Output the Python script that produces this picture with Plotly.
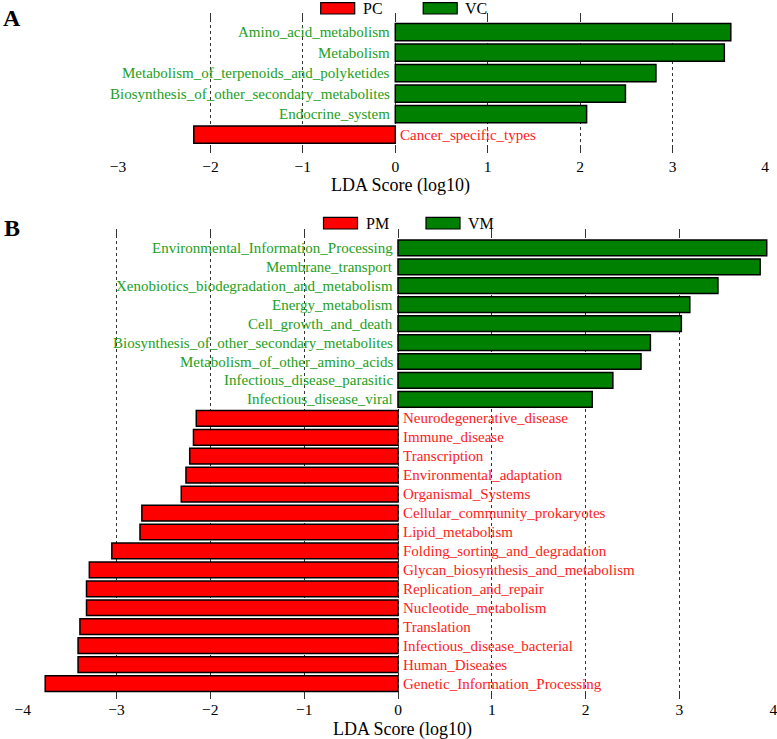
import plotly.graph_objects as go

W, H = 777, 739

# ---------------- data ----------------
a_features = ["Amino_acid_metabolism", "Metabolism",
              "Metabolism_of_terpenoids_and_polyketides",
              "Biosynthesis_of_other_secondary_metabolites",
              "Endocrine_system", "Cancer_specific_types"]
a_scores = [3.63, 3.56, 2.82, 2.49, 2.07, -2.18]
a_groups = ["PC", "VC"]

b_features = ["Environmental_Information_Processing", "Membrane_transport",
              "Xenobiotics_biodegradation_and_metabolism", "Energy_metabolism",
              "Cell_growth_and_death", "Biosynthesis_of_other_secondary_metabolites",
              "Metabolism_of_other_amino_acids", "Infectious_disease_parasitic",
              "Infectious_disease_viral", "Neurodegenerative_disease",
              "Immune_disease", "Transcription", "Environmental_adaptation",
              "Organismal_Systems", "Cellular_community_prokaryotes",
              "Lipid_metabolism", "Folding_sorting_and_degradation",
              "Glycan_biosynthesis_and_metabolism", "Replication_and_repair",
              "Nucleotide_metabolism", "Translation",
              "Infectious_disease_bacterial", "Human_Diseases",
              "Genetic_Information_Processing"]
b_scores = [3.93, 3.86, 3.41, 3.11, 3.02, 2.69, 2.59, 2.29, 2.07,
            -2.15, -2.18, -2.22, -2.26, -2.31, -2.73, -2.75, -3.05,
            -3.29, -3.32, -3.32, -3.39, -3.41, -3.41, -3.76]
b_groups = ["PM", "VM"]

x_ticks_a = [-3, -2, -1, 0, 1, 2, 3, 4]
x_ticks_b = [-4, -3, -2, -1, 0, 1, 2, 3, 4]
x_title = "LDA Score (log10)"

# ---------------- style ----------------
RED = "#FF0000"
GREEN = "#008000"
RED_TXT = "#FF1A1A"
GREEN_TXT = "#22A022"
FONT = "Liberation Serif"

fig = go.Figure()

def px_x(p):
    return p / W

def px_y(p):
    return 1 - p / H

def add_panel(features, scores, xa, ya, width):
    for flag, col in ((False, RED), (True, GREEN)):
        ys = [f for f, s in zip(features, scores) if (s >= 0) == flag]
        xs = [s for s in scores if (s >= 0) == flag]
        fig.add_trace(go.Bar(
            x=xs, y=ys, orientation="h", base=0, width=width,
            marker=dict(color=col, line=dict(color="black", width=1.5)),
            xaxis=xa, yaxis=ya, showlegend=False, hoverinfo="x+y"))
    for f, s in zip(features, scores):
        if s >= 0:
            fig.add_annotation(x=0, y=f, xref=xa, yref=ya, text=f,
                               showarrow=False, xanchor="right", yanchor="middle",
                               xshift=-3,
                               font=dict(family=FONT, size=15, color=GREEN_TXT))
        else:
            fig.add_annotation(x=0, y=f, xref=xa, yref=ya, text=f,
                               showarrow=False, xanchor="left", yanchor="middle",
                               xshift=3,
                               font=dict(family=FONT, size=15, color=RED_TXT))

add_panel(a_features, a_scores, "x", "y", 0.84)
add_panel(b_features, b_scores, "x2", "y2", 0.83)

def xaxis_style(label_standoff):
    return dict(showline=False, zeroline=False, showgrid=True, automargin=False,
                gridcolor="#333333", griddash="dot", gridwidth=1,
                ticks="inside", ticklen=6, tickcolor="#333333", tickwidth=1,
                mirror="ticks", ticklabeloverflow="allow",
                ticklabelstandoff=label_standoff,
                tickfont=dict(family=FONT, size=15.5, color="black"))

ycommon = dict(showline=False, zeroline=False, showgrid=False, automargin=False,
               showticklabels=False, ticks="")

fig.update_layout(
    width=W, height=H,
    margin=dict(l=0, r=0, t=0, b=0, pad=0, autoexpand=False),
    paper_bgcolor="white", plot_bgcolor="white",
    barmode="overlay",
    xaxis=dict(domain=[px_x(118), px_x(765)], range=[-3, 4],
               tickvals=x_ticks_a, anchor="y", **xaxis_style(2)),
    yaxis=dict(domain=[px_y(153), px_y(13)], range=[5.90, -0.93],
               categoryorder="array", categoryarray=a_features,
               anchor="x", **ycommon),
    xaxis2=dict(domain=[px_x(22.7), px_x(773.3)], range=[-4, 4],
                tickvals=x_ticks_b, anchor="y2", **xaxis_style(0)),
    yaxis2=dict(domain=[px_y(698.5), px_y(229)], range=[23.79, -0.995],
                categoryorder="array", categoryarray=b_features,
                anchor="x2", **ycommon),
)

# axis titles
for cx, cy in ((400, 185), (402, 729.5)):
    fig.add_annotation(x=px_x(cx), y=px_y(cy), xref="paper", yref="paper",
                       text=x_title, showarrow=False,
                       xanchor="center", yanchor="middle",
                       font=dict(family=FONT, size=18, color="black"))

# panel letters
for letter, cy in (("A", 18), ("B", 228)):
    fig.add_annotation(x=px_x(12), y=px_y(cy), xref="paper", yref="paper",
                       text="<b>%s</b>" % letter, showarrow=False,
                       xanchor="center", yanchor="middle",
                       font=dict(family=FONT, size=24, color="black"))

# manual legends
def legend(groups, x0, ytop, ybot):
    for i, (g, col) in enumerate(zip(groups, (RED, GREEN))):
        bx = x0 + i * 102.5
        fig.add_shape(type="rect", xref="paper", yref="paper",
                      x0=px_x(bx), x1=px_x(bx + 34), y0=px_y(ybot), y1=px_y(ytop),
                      fillcolor=col, line=dict(color="black", width=1.2))
        fig.add_annotation(x=px_x(bx + 40), y=px_y((ytop + ybot) / 2),
                           xref="paper", yref="paper", text=g,
                           showarrow=False, xanchor="left", yanchor="middle",
                           font=dict(family=FONT, size=16, color="black"))

legend(a_groups, 320.7, 2.7, 14)
legend(b_groups, 323.5, 217.3, 229)

fig.write_html("out.html",
               config={"displayModeBar": False},
               post_script="document.body.style.margin='0';"
                           "document.body.style.overflow='hidden';")
